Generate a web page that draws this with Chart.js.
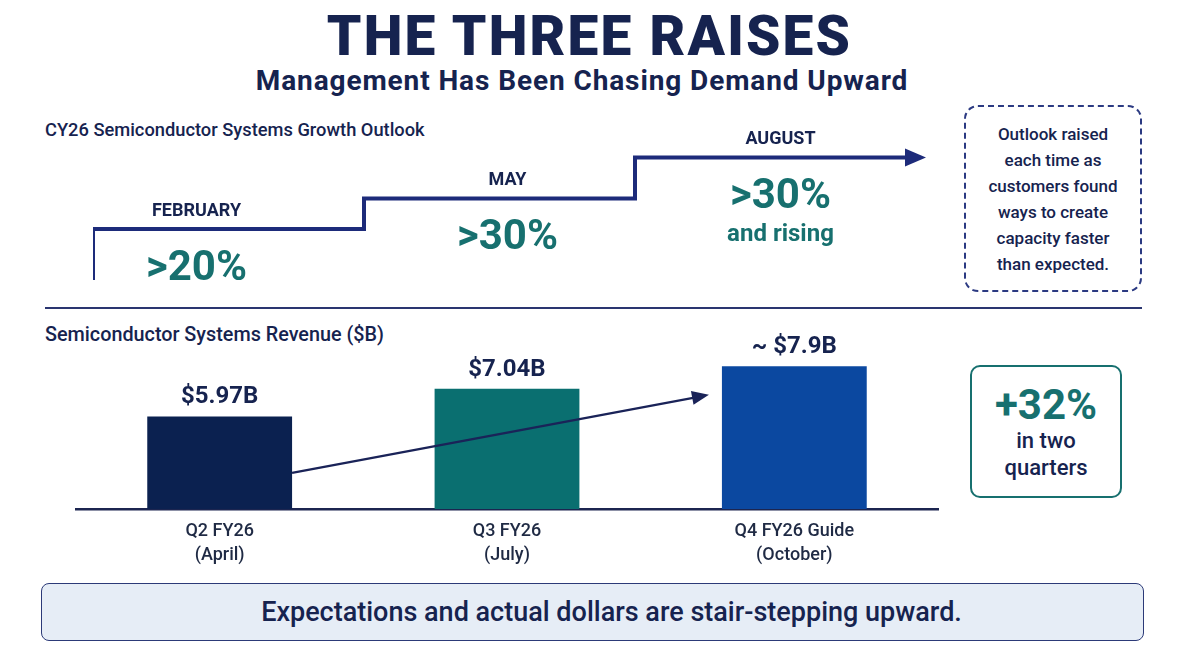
<!DOCTYPE html>
<html>
<head>
<meta charset="utf-8">
<script src="https://cdn.jsdelivr.net/npm/chart.js@4.4.1/dist/chart.umd.min.js"></script>
<style>
  body { margin: 0; width: 1179px; height: 655px; background: #fff; position: relative; overflow: hidden;
         font-family: Roboto, "Liberation Sans", sans-serif; color: #16234f; }
  .abs { position: absolute; }
  #title { left: 0; width: 1179px; top: 7px; text-align: center; font-size: 55px; font-weight: 900; line-height: 58px; letter-spacing: 2.2px; }
  #subtitle { left: 0; width: 1164px; top: 66px; text-align: center; font-size: 28px; font-weight: 700; line-height: 30px; letter-spacing: 0.9px; }
  .section { left: 45px; font-weight: 500; line-height: 22px; }
  #note { left: 964px; top: 105px; width: 174px; height: 183px; border: 2px dashed #2b3a82; border-radius: 14px;
          display: flex; align-items: center; justify-content: center; text-align: center;
          font-size: 17px; font-weight: 500; line-height: 26px; }
  #divider { left: 45px; top: 307px; width: 1097px; height: 2px; background: #2a3570; }
  #growth { left: 970px; top: 365px; width: 148px; height: 129px; border: 2.5px solid #17706f; border-radius: 10px;
            display: flex; flex-direction: column; align-items: center; justify-content: center; text-align: center; }
  #growth .big { font-size: 42px; font-weight: 700; color: #17706f; line-height: 44px; }
  #growth .small { font-size: 22px; font-weight: 500; line-height: 27px; }
  #banner { left: 41px; top: 583px; width: 1101px; height: 56px; background: #e6edf6; border: 1.5px solid #2c3a78; border-radius: 8px;
            display: flex; align-items: center; justify-content: center; font-size: 27px; font-weight: 500;
            box-sizing: content-box; padding-left: 0; }
  #banner span { position: relative; left: 19px; }
  canvas { position: absolute; }
</style>
</head>
<body>
<div id="title" class="abs">THE THREE RAISES</div>
<div id="subtitle" class="abs">Management Has Been Chasing Demand Upward</div>
<div class="abs section" style="top:119px;font-size:18.3px">CY26 Semiconductor Systems Growth Outlook</div>
<div id="note" class="abs">Outlook raised<br>each time as<br>customers found<br>ways to create<br>capacity faster<br>than expected.</div>
<div id="divider" class="abs"></div>
<div class="abs section" style="top:324px;font-size:19.8px">Semiconductor Systems Revenue ($B)</div>
<div id="growth" class="abs"><div class="big">+32%</div><div class="small">in two<br>quarters</div></div>
<div id="banner" class="abs"><span>Expectations and actual dollars are stair-stepping upward.</span></div>

<div class="abs" style="left:60px;top:100px;width:900px;height:200px"><canvas id="stairChart"></canvas></div>
<div class="abs" style="left:0;top:320px;width:1179px;height:260px"><canvas id="revChart"></canvas></div>

<script>
// top panel: the three outlook raises
const raiseMonths = ['FEBRUARY', 'MAY', 'AUGUST'];
const raiseMonthNum = [2, 5, 8];
const outlookLabels = ['>20%', '>30%', '>30%'];
const outlookNotes = ['', '', 'and rising'];
const stairLevel = [1, 1.6, 2.4];   // relative step height
const arrowEndMonth = 11;

// bottom panel: revenue by quarter
const quarters = [['Q2 FY26', '(April)'], ['Q3 FY26', '(July)'], ['Q4 FY26 Guide', '(October)']];
const revenue = [5.97, 7.04, 7.9];
const revenueLabels = ['$5.97B', '$7.04B', '~ $7.9B'];
const barColors = ['#0b2150', '#0a6f70', '#0b48a0'];

const NAVY = '#16234f';
const TEAL = '#17706f';
const FONT = 'Roboto, "Liberation Sans", sans-serif';

// build the stair points: start at base, then each raise level, then run out to the arrow
const stairPoints = [{ x: raiseMonthNum[0], y: 0 }];
raiseMonthNum.forEach((m, i) => stairPoints.push({ x: m, y: stairLevel[i] }));
stairPoints.push({ x: arrowEndMonth, y: stairLevel[stairLevel.length - 1] });

const stairLabels = {
  id: 'stairLabels',
  afterDatasetsDraw(chart) {
    const { ctx, scales: { x, y } } = chart;
    const pts = chart.getDatasetMeta(0).data;
    const tip = pts[pts.length - 1];
    ctx.save();
    // arrow head
    ctx.fillStyle = '#1d2b7a';
    ctx.beginPath();
    ctx.moveTo(tip.x + 20, tip.y);
    ctx.lineTo(tip.x - 1, tip.y - 9);
    ctx.lineTo(tip.x - 1, tip.y + 9);
    ctx.closePath();
    ctx.fill();

    ctx.textAlign = 'center';
    ctx.textBaseline = 'middle';
    raiseMonths.forEach((name, i) => {
      const x0 = x.getPixelForValue(raiseMonthNum[i]);
      const x1 = i < raiseMonthNum.length - 1 ? x.getPixelForValue(raiseMonthNum[i + 1]) : tip.x + 20;
      const cx = (x0 + x1) / 2 - (i === 0 ? 32 : 0) + (i === 1 ? 8 : 0);
      const ly = y.getPixelForValue(stairLevel[i]);
      ctx.fillStyle = NAVY;
      ctx.font = '700 18px ' + FONT;
      ctx.fillText(name, cx, ly - 18);
      ctx.fillStyle = TEAL;
      ctx.font = '700 42px ' + FONT;
      ctx.fillText(outlookLabels[i], cx, ly + 40);
      if (outlookNotes[i]) {
        ctx.font = '700 24px ' + FONT;
        ctx.fillText(outlookNotes[i], cx, ly + 77);
      }
    });
    ctx.restore();
  }
};

new Chart(document.getElementById('stairChart'), {
  type: 'line',
  data: {
    datasets: [{
      data: stairPoints,
      stepped: 'before',
      borderColor: '#1d2b7a',
      borderWidth: 4,
      borderJoinStyle: 'miter',
      pointRadius: 0,
      fill: false
    }]
  },
  options: {
    responsive: true,
    maintainAspectRatio: false,
    animation: false,
    layout: { padding: { left: 33, right: 54, top: 27, bottom: 20 } },
    plugins: { legend: { display: false }, tooltip: { enabled: false } },
    scales: {
      x: { type: 'linear', min: raiseMonthNum[0], max: arrowEndMonth, display: false },
      y: { min: 0, max: 3, display: false }
    }
  },
  plugins: [stairLabels]
});

const barExtras = {
  id: 'barExtras',
  afterDatasetsDraw(chart) {
    const { ctx, chartArea } = chart;
    const bars = chart.getDatasetMeta(0).data;
    const bottom = chartArea.bottom;
    ctx.save();
    // value labels
    ctx.fillStyle = NAVY;
    ctx.font = '700 24px ' + FONT;
    ctx.textAlign = 'center';
    ctx.textBaseline = 'middle';
    bars.forEach((b, i) => ctx.fillText(revenueLabels[i], b.x, b.y - 19));

    // trend arrow from first bar towards the guide bar
    const a = bars[0], c = bars[bars.length - 1];
    const sx = a.x + a.width / 2, sy = bottom - (bottom - a.y) * 0.39;
    const ex = c.x - c.width / 2 - 13, ey = bottom - (bottom - c.y) * 0.8;
    const ang = Math.atan2(ey - sy, ex - sx);
    ctx.strokeStyle = '#1a2358';
    ctx.fillStyle = '#1a2358';
    ctx.lineWidth = 2.2;
    ctx.beginPath();
    ctx.moveTo(sx, sy);
    ctx.lineTo(ex - 12 * Math.cos(ang), ey - 12 * Math.sin(ang));
    ctx.stroke();
    ctx.beginPath();
    ctx.moveTo(ex, ey);
    ctx.lineTo(ex - 17 * Math.cos(ang) + 7 * Math.sin(ang), ey - 17 * Math.sin(ang) - 7 * Math.cos(ang));
    ctx.lineTo(ex - 17 * Math.cos(ang) - 7 * Math.sin(ang), ey - 17 * Math.sin(ang) + 7 * Math.cos(ang));
    ctx.closePath();
    ctx.fill();
    ctx.restore();
  }
};

new Chart(document.getElementById('revChart'), {
  type: 'bar',
  data: {
    labels: quarters,
    datasets: [{
      data: revenue,
      backgroundColor: barColors,
      borderWidth: 0,
      categoryPercentage: 0.8,
      barPercentage: 0.63
    }]
  },
  options: {
    responsive: true,
    maintainAspectRatio: false,
    animation: false,
    layout: { padding: { left: 76, right: 241, top: 10, bottom: 11 } },
    plugins: { legend: { display: false }, tooltip: { enabled: false } },
    scales: {
      x: {
        grid: { display: false, drawTicks: false },
        border: { display: true, color: '#1c2550', width: 2.5 },
        ticks: { color: '#1f2a44', padding: 10, font: { family: FONT, size: 18, weight: 500, lineHeight: 1.35 } },
        afterFit(scale) { scale.height = 60; }
      },
      y: { min: 2.4, max: 9.3, display: false }
    }
  },
  plugins: [barExtras]
});
</script>
</body>
</html>
